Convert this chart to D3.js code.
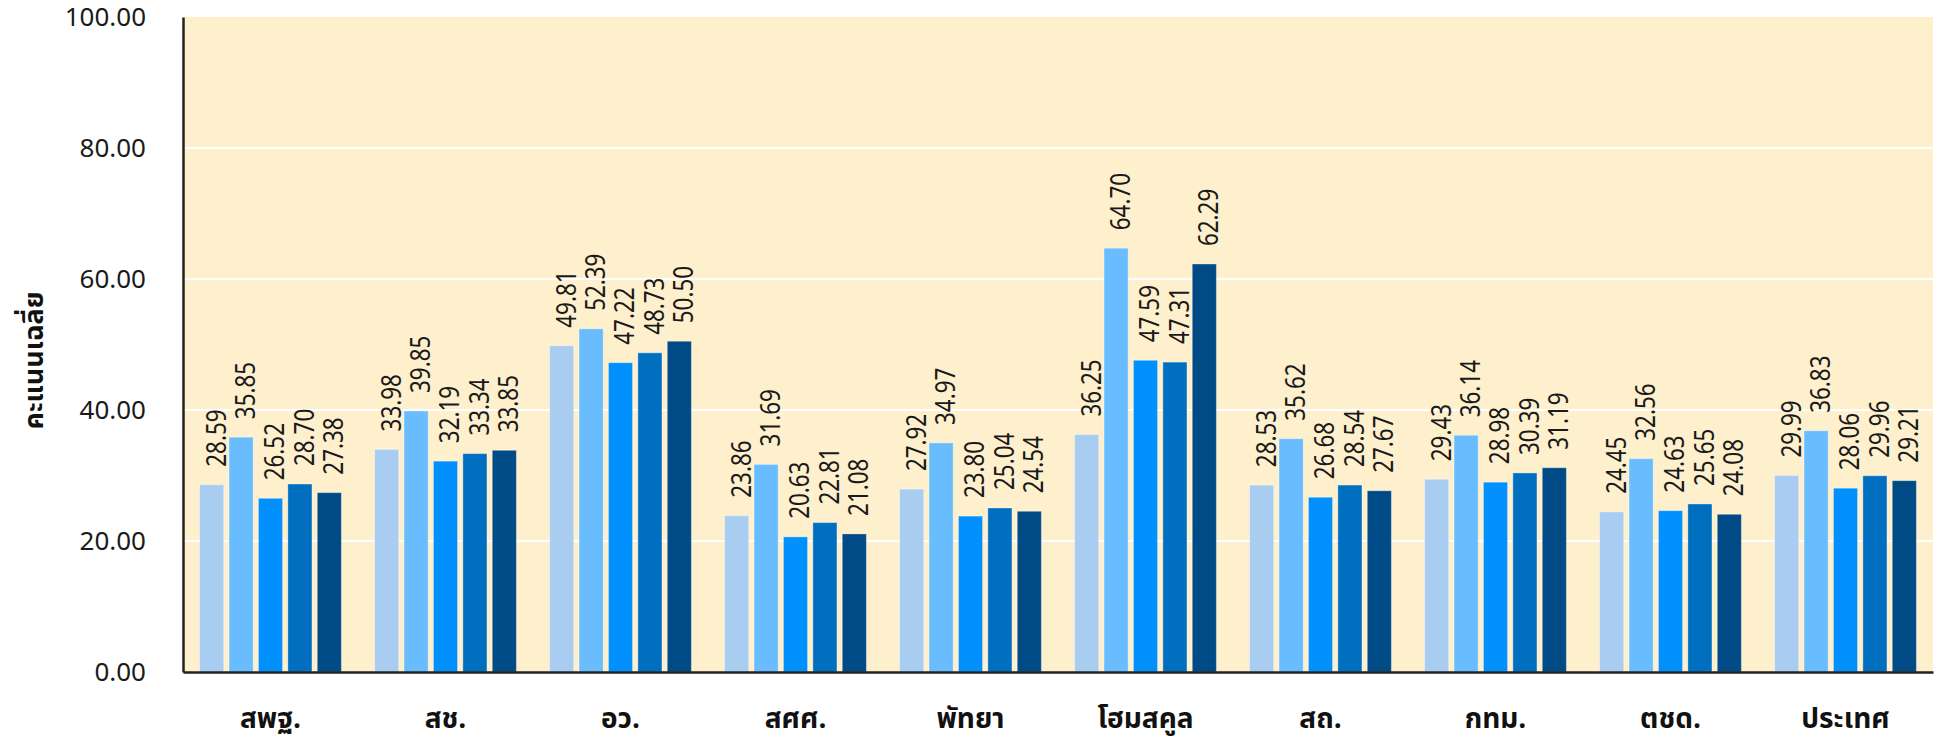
<!DOCTYPE html>
<html lang="th">
<head>
<meta charset="utf-8" />
<title>คะแนนเฉลี่ย</title>
<script src="https://d3js.org/d3.v7.min.js"></script>
<style>
  body{margin:0;background:#fff;}
  svg{display:block;}
  .thai{font-family:"Noto Sans Thai","Noto Sans Thai UI","Loma","Garuda","Noto Sans",sans-serif;}
  .num{font-family:"Noto Sans",sans-serif;}
</style>
</head>
<body>
<svg id="chart" width="1935" height="745"></svg>
<script>
// -------- data --------
const CATEGORIES=['สพฐ.','สช.','อว.','สศศ.','พัทยา','โฮมสคูล','สถ.','กทม.','ตชด.','ประเทศ'];
const SERIES=['s1','s2','s3','s4','s5'];
const S1=[28.59,33.98,49.81,23.86,27.92,36.25,28.53,29.43,24.45,29.99];
const S2=[35.85,39.85,52.39,31.69,34.97,64.70,35.62,36.14,32.56,36.83];
const S3=[26.52,32.19,47.22,20.63,23.80,47.59,26.68,28.98,24.63,28.06];
const S4=[28.70,33.34,48.73,22.81,25.04,47.31,28.54,30.39,25.65,29.96];
const S5=[27.38,33.85,50.50,21.08,24.54,62.29,27.67,31.19,24.08,29.21];
const Y_TICKS=[0,20,40,60,80,100];
const Y_TITLE='คะแนนเฉลี่ย';

const COLORS=['#a9cdf1','#69bdff','#0290fc','#006fc0','#004b86'];

// -------- layout --------
const margin={top:17,right:2,bottom:73,left:183};
const svg=d3.select('#chart');
const W=+svg.attr('width')-margin.left-margin.right;
const H=+svg.attr('height')-margin.top-margin.bottom;
const g=svg.append('g').attr('transform',`translate(${margin.left},${margin.top})`);

const values=[S1,S2,S3,S4,S5];
const rows=CATEGORIES.map((c,i)=>({cat:c,vals:SERIES.map((s,j)=>({key:s,idx:j,v:values[j][i]}))}));

const x0=d3.scaleBand().domain(CATEGORIES).range([0,W]).paddingInner(0.19).paddingOuter(0.095);
const x1=d3.scaleBand().domain(SERIES).range([0,x0.bandwidth()]).paddingInner(0.18);
const y=d3.scaleLinear().domain([0,100]).range([H,0]);

// plot background
g.append('rect').attr('x',0).attr('y',0).attr('width',W).attr('height',H).attr('fill','#fff0cd');

// gridlines
g.append('g').selectAll('line').data(Y_TICKS.filter(t=>t>0&&t<100)).join('line')
  .attr('x1',0).attr('x2',W).attr('y1',d=>y(d)).attr('y2',d=>y(d))
  .attr('stroke','#fff').attr('stroke-width',2);

// bars
const grp=g.selectAll('.grp').data(rows).join('g').attr('class','grp')
  .attr('transform',d=>`translate(${x0(d.cat)},0)`);
grp.selectAll('rect').data(d=>d.vals).join('rect')
  .attr('x',d=>x1(d.key)).attr('width',x1.bandwidth())
  .attr('y',d=>y(d.v)).attr('height',d=>H-y(d.v))
  .attr('fill',d=>COLORS[d.idx])
  .attr('stroke','rgba(255,255,255,0.35)').attr('stroke-width',1);

// value labels (narrow digits like the original)
grp.selectAll('text').data(d=>d.vals).join('text')
  .attr('class','num')
  .attr('transform',d=>`translate(${x1(d.key)+x1.bandwidth()/2+3},${y(d.v)-18}) rotate(-90) scale(0.83,1)`)
  .attr('dominant-baseline','central')
  .attr('font-size',27).attr('fill','#1a1a1a')
  .text(d=>d.v.toFixed(2));

// y axis
const yAxis=g.append('g').call(d3.axisLeft(y).tickValues(Y_TICKS).tickSize(0).tickPadding(37).tickFormat(d3.format('.2f')));
yAxis.select('.domain').attr('stroke','#222').attr('stroke-width',2.5);
yAxis.selectAll('text').attr('class','thai').attr('font-size',26).attr('fill','#1a1a1a');

// x axis
const xAxis=g.append('g').attr('transform',`translate(0,${H})`).call(d3.axisBottom(x0).tickSize(0).tickPadding(36));
xAxis.select('.domain').attr('stroke','#222').attr('stroke-width',2.5);
xAxis.selectAll('text').attr('class','thai').attr('font-size',28).attr('font-weight','bold').attr('fill','#111');

// y title
svg.append('text').attr('class','thai')
  .attr('transform',`translate(34,${margin.top+H/2+16}) rotate(-90)`)
  .attr('text-anchor','middle').attr('dominant-baseline','central')
  .attr('font-size',27).attr('font-weight','bold').attr('fill','#111')
  .text(Y_TITLE);
</script>
</body>
</html>
